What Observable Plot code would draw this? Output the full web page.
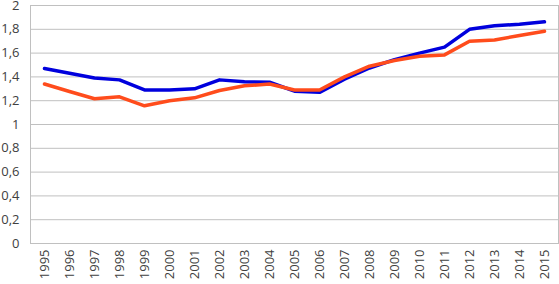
<!DOCTYPE html>
<html>
<head>
<meta charset="utf-8">
<script src="https://cdn.jsdelivr.net/npm/d3@7"></script>
<script src="https://cdn.jsdelivr.net/npm/@observablehq/plot@0.6"></script>
<style>
  html, body { margin: 0; padding: 0; background: #fff; }
</style>
</head>
<body>
<div id="chart"></div>
<script>
const years = [1995, 1996, 1997, 1998, 1999, 2000, 2001, 2002, 2003, 2004, 2005,
               2006, 2007, 2008, 2009, 2010, 2011, 2012, 2013, 2014, 2015];
const blueSeries = [1.47, 1.43, 1.39, 1.375, 1.29, 1.29, 1.30, 1.375, 1.36, 1.355, 1.28,
                    1.27, 1.38, 1.475, 1.545, 1.60, 1.65, 1.80, 1.83, 1.843, 1.863];
const orangeSeries = [1.34, 1.277, 1.216, 1.233, 1.157, 1.20, 1.224, 1.286, 1.325, 1.34, 1.29,
                      1.29, 1.40, 1.49, 1.538, 1.574, 1.585, 1.70, 1.71, 1.748, 1.784];
const yTicks = [0, 0.2, 0.4, 0.6, 0.8, 1, 1.2, 1.4, 1.6, 1.8, 2];

const blueData = years.map((y, i) => ({year: String(y), value: blueSeries[i]}));
const orangeData = years.map((y, i) => ({year: String(y), value: orangeSeries[i]}));

const fmt = d => String(d).replace(".", ",");

const chart = Plot.plot({
  width: 559,
  height: 284,
  marginLeft: 30,
  marginRight: 1,
  marginTop: 5,
  marginBottom: 41,
  style: {fontFamily: "'Open Sans', 'Liberation Sans', sans-serif", fontSize: "13px", color: "#404040", background: "#fff"},
  x: {type: "point", domain: years.map(String), padding: 0.5},
  y: {domain: [0, 2]},
  marks: [
    Plot.gridY(yTicks, {stroke: "#c0c0c0", strokeOpacity: 1}),
    Plot.frame({stroke: "#c0c0c0"}),
    Plot.axisY(yTicks, {tickSize: 0, tickPadding: 11, tickFormat: fmt, fontSize: 13, label: null}),
    Plot.axisX({tickSize: 0, tickPadding: 6, tickRotate: -90, fontSize: 13, label: null}),
    Plot.lineY(blueData, {x: "year", y: "value", stroke: "#0000dd", strokeWidth: 3.5}),
    Plot.lineY(orangeData, {x: "year", y: "value", stroke: "#ff4c1c", strokeWidth: 3.5})
  ]
});
document.getElementById("chart").appendChild(chart);
</script>
</body>
</html>
